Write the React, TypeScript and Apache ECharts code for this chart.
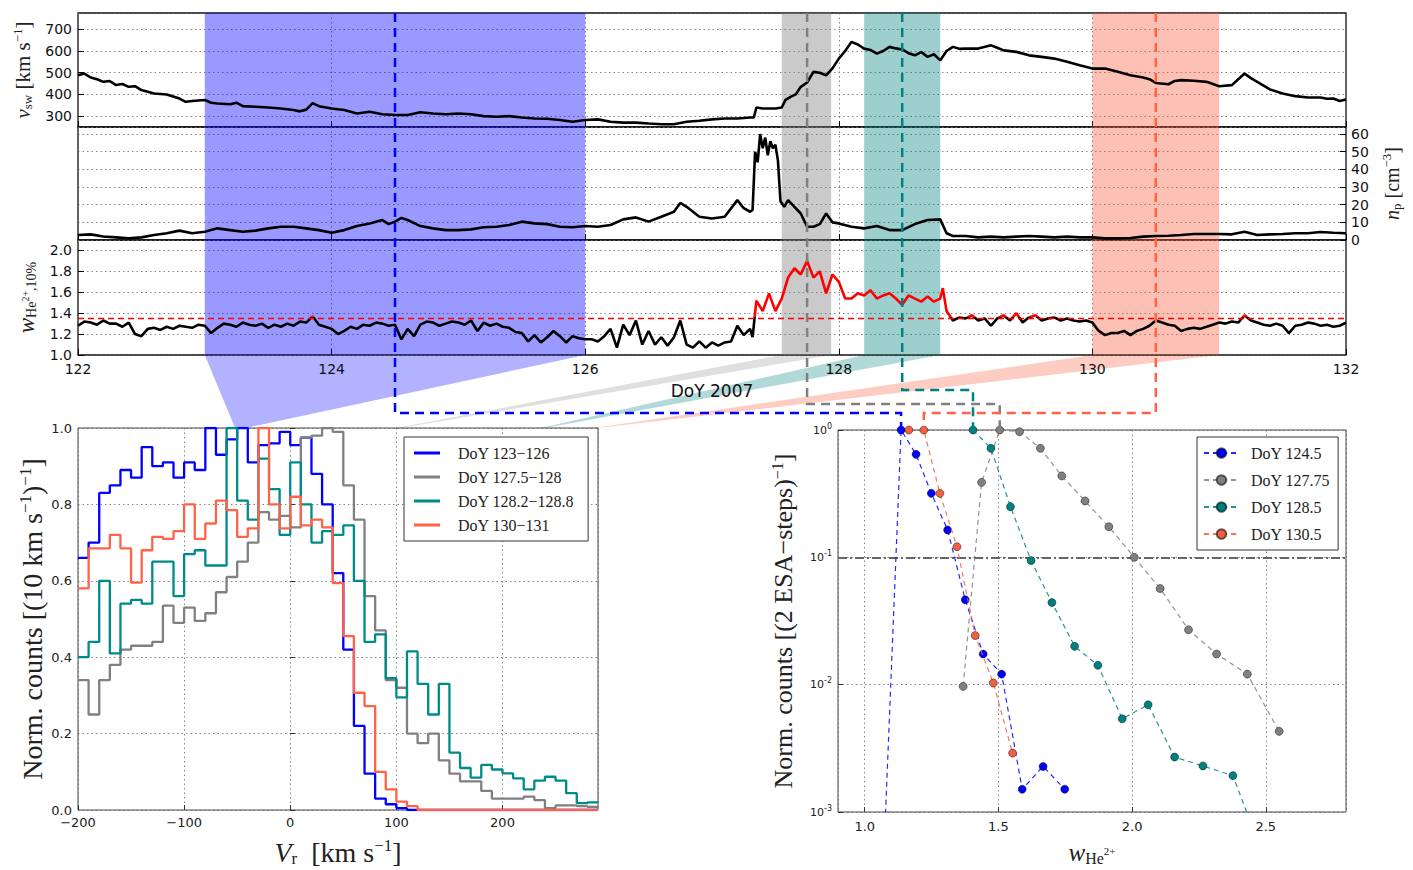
import { useEffect, useRef } from 'react';
import * as echarts from 'echarts';

// ---------------- DATA ----------------
// Top panels: [DoY, value]
const vswData: [number, number][] = [
  [122.0, 488], [122.05, 496], [122.1, 478], [122.15, 470], [122.2, 458], [122.25, 462], [122.3, 443], [122.35, 448],
  [122.4, 435], [122.45, 438], [122.5, 420], [122.6, 404], [122.7, 400], [122.8, 381], [122.85, 366], [122.9, 370],
  [123.0, 374], [123.05, 362], [123.1, 358], [123.2, 355], [123.25, 362], [123.3, 346], [123.4, 343], [123.5, 340],
  [123.6, 335], [123.7, 328], [123.75, 322], [123.8, 330], [123.85, 360], [123.9, 346], [124.0, 335], [124.1, 328],
  [124.2, 312], [124.3, 320], [124.4, 309], [124.5, 305], [124.6, 305], [124.7, 318], [124.8, 312], [124.9, 309],
  [125.0, 312], [125.1, 309], [125.2, 300], [125.3, 297], [125.4, 300], [125.5, 294], [125.6, 289], [125.7, 288],
  [125.8, 282], [125.9, 274], [126.0, 282], [126.1, 285], [126.2, 274], [126.3, 270], [126.4, 270], [126.5, 266],
  [126.6, 263], [126.7, 263], [126.8, 274], [126.9, 279], [127.0, 285], [127.1, 289], [127.2, 289], [127.3, 294],
  [127.33, 294], [127.35, 340], [127.4, 335], [127.5, 335], [127.55, 340], [127.58, 375], [127.62, 389], [127.66, 400],
  [127.7, 435], [127.75, 455], [127.8, 504], [127.85, 500], [127.9, 488], [127.95, 520], [128.0, 565], [128.05, 600],
  [128.1, 642], [128.15, 630], [128.2, 611], [128.25, 605], [128.3, 588], [128.35, 600], [128.4, 619], [128.45, 612],
  [128.5, 607], [128.55, 590], [128.6, 580], [128.65, 595], [128.7, 573], [128.75, 585], [128.8, 557], [128.85, 600],
  [128.9, 619], [128.95, 610], [129.0, 611], [129.1, 611], [129.2, 626], [129.25, 615], [129.3, 603], [129.4, 596],
  [129.5, 580], [129.6, 573], [129.7, 565], [129.8, 550], [129.9, 534], [130.0, 519], [130.1, 519], [130.2, 504],
  [130.3, 488], [130.4, 478], [130.45, 470], [130.5, 453], [130.6, 447], [130.65, 462], [130.7, 466], [130.8, 463],
  [130.9, 458], [131.0, 438], [131.1, 443], [131.15, 470], [131.2, 496], [131.25, 475], [131.3, 458], [131.4, 423],
  [131.5, 404], [131.6, 392], [131.7, 386], [131.8, 386], [131.85, 380], [131.9, 381], [131.95, 370], [132.0, 377],
];

const npData: [number, number][] = [
  [122.0, 2.8], [122.1, 3.2], [122.2, 2.0], [122.3, 1.5], [122.4, 1.0], [122.5, 1.5], [122.6, 2.8], [122.7, 3.8],
  [122.8, 5.3], [122.9, 3.8], [123.0, 4.7], [123.1, 6.6], [123.2, 5.6], [123.3, 4.7], [123.4, 5.3], [123.5, 6.6],
  [123.6, 7.5], [123.7, 7.5], [123.8, 6.6], [123.9, 5.6], [124.0, 4.1], [124.1, 5.6], [124.2, 7.9], [124.3, 9.4],
  [124.4, 11.3], [124.45, 9.0], [124.5, 10.4], [124.55, 12.5], [124.6, 11.3], [124.7, 7.9], [124.8, 6.6], [124.9, 5.6],
  [125.0, 5.6], [125.1, 6.0], [125.2, 7.2], [125.3, 7.5], [125.4, 8.5], [125.5, 10.4], [125.6, 9.4], [125.7, 9.0],
  [125.8, 7.5], [125.9, 7.2], [126.0, 7.9], [126.1, 7.5], [126.2, 8.5], [126.3, 11.7], [126.4, 12.8], [126.5, 10.4],
  [126.6, 13.2], [126.7, 16.0], [126.75, 21.0], [126.8, 18.8], [126.9, 13.2], [127.0, 12.2], [127.1, 13.2], [127.2, 22.6],
  [127.25, 18.0], [127.3, 16.0], [127.32, 17.0], [127.34, 50], [127.36, 44], [127.38, 60], [127.4, 52], [127.42, 58],
  [127.44, 48], [127.46, 56], [127.48, 52], [127.5, 54], [127.52, 45], [127.54, 22], [127.57, 18.8], [127.6, 22.6],
  [127.65, 18.8], [127.7, 15.0], [127.75, 7.5], [127.8, 7.5], [127.85, 9.0], [127.9, 15.0], [127.95, 10.0], [128.0, 9.4],
  [128.1, 7.5], [128.2, 6.6], [128.3, 7.9], [128.4, 5.6], [128.5, 5.6], [128.6, 9.0], [128.7, 11.3], [128.8, 11.7],
  [128.85, 3.8], [128.9, 2.3], [129.0, 2.3], [129.1, 1.5], [129.2, 1.9], [129.3, 1.5], [129.4, 1.9], [129.5, 2.3],
  [129.6, 1.9], [129.7, 1.5], [129.8, 1.9], [129.9, 1.5], [130.0, 1.5], [130.1, 0.9], [130.2, 0.9], [130.3, 1.1],
  [130.4, 1.9], [130.5, 2.3], [130.6, 2.4], [130.7, 2.8], [130.8, 3.4], [130.9, 3.4], [131.0, 3.4], [131.1, 3.2],
  [131.2, 4.7], [131.3, 2.8], [131.4, 3.2], [131.5, 3.4], [131.6, 3.8], [131.7, 3.8], [131.8, 4.5], [131.9, 4.1],
  [132.0, 3.8],
];

const wData: [number, number][] = [
  [122.0, 1.28], [122.05, 1.32], [122.1, 1.31], [122.15, 1.29], [122.2, 1.33], [122.25, 1.30], [122.3, 1.30], [122.35, 1.27],
  [122.4, 1.31], [122.45, 1.20], [122.5, 1.18], [122.55, 1.25], [122.6, 1.26], [122.65, 1.24], [122.7, 1.27], [122.75, 1.25],
  [122.8, 1.28], [122.85, 1.27], [122.9, 1.26], [122.95, 1.29], [123.0, 1.28], [123.05, 1.21], [123.1, 1.26], [123.15, 1.30],
  [123.2, 1.29], [123.25, 1.27], [123.3, 1.31], [123.35, 1.29], [123.4, 1.28], [123.45, 1.30], [123.5, 1.26], [123.55, 1.29],
  [123.6, 1.27], [123.65, 1.30], [123.7, 1.28], [123.75, 1.32], [123.8, 1.31], [123.85, 1.37], [123.9, 1.29], [123.95, 1.27],
  [124.0, 1.25], [124.05, 1.20], [124.1, 1.23], [124.15, 1.27], [124.2, 1.25], [124.25, 1.29], [124.3, 1.28], [124.35, 1.31],
  [124.4, 1.30], [124.45, 1.28], [124.5, 1.29], [124.55, 1.15], [124.6, 1.25], [124.65, 1.18], [124.7, 1.29], [124.75, 1.32],
  [124.8, 1.31], [124.85, 1.28], [124.9, 1.30], [124.95, 1.32], [125.0, 1.31], [125.05, 1.29], [125.1, 1.33], [125.15, 1.23],
  [125.2, 1.31], [125.25, 1.28], [125.3, 1.30], [125.35, 1.27], [125.4, 1.26], [125.45, 1.22], [125.5, 1.21], [125.55, 1.13],
  [125.6, 1.19], [125.65, 1.12], [125.7, 1.17], [125.75, 1.23], [125.8, 1.18], [125.85, 1.12], [125.9, 1.18], [125.95, 1.16],
  [126.0, 1.15], [126.05, 1.15], [126.1, 1.13], [126.15, 1.18], [126.2, 1.25], [126.25, 1.07], [126.3, 1.29], [126.35, 1.19],
  [126.4, 1.33], [126.45, 1.10], [126.5, 1.23], [126.55, 1.10], [126.6, 1.17], [126.65, 1.09], [126.7, 1.17], [126.75, 1.33],
  [126.8, 1.10], [126.85, 1.07], [126.9, 1.13], [126.95, 1.07], [127.0, 1.12], [127.05, 1.09], [127.1, 1.12], [127.15, 1.13],
  [127.2, 1.28], [127.25, 1.19], [127.3, 1.25], [127.32, 1.17], [127.35, 1.52], [127.4, 1.42], [127.45, 1.59], [127.5, 1.42],
  [127.55, 1.54], [127.6, 1.74], [127.65, 1.83], [127.7, 1.77], [127.75, 1.90], [127.8, 1.74], [127.85, 1.80], [127.9, 1.59],
  [127.95, 1.77], [128.0, 1.70], [128.05, 1.54], [128.1, 1.54], [128.15, 1.59], [128.2, 1.57], [128.25, 1.62], [128.3, 1.54],
  [128.35, 1.57], [128.4, 1.59], [128.45, 1.54], [128.5, 1.48], [128.55, 1.57], [128.6, 1.54], [128.65, 1.51], [128.7, 1.56],
  [128.75, 1.51], [128.8, 1.54], [128.82, 1.64], [128.85, 1.42], [128.9, 1.33], [128.95, 1.36], [129.0, 1.35], [129.05, 1.38],
  [129.1, 1.33], [129.15, 1.35], [129.2, 1.28], [129.25, 1.35], [129.3, 1.38], [129.35, 1.33], [129.4, 1.40], [129.45, 1.31],
  [129.5, 1.36], [129.55, 1.38], [129.6, 1.33], [129.65, 1.35], [129.7, 1.36], [129.75, 1.33], [129.8, 1.35], [129.85, 1.33],
  [129.9, 1.32], [129.95, 1.33], [130.0, 1.31], [130.05, 1.23], [130.1, 1.19], [130.15, 1.21], [130.2, 1.21], [130.25, 1.23],
  [130.3, 1.19], [130.35, 1.23], [130.4, 1.25], [130.45, 1.28], [130.5, 1.33], [130.55, 1.31], [130.6, 1.29], [130.65, 1.28],
  [130.7, 1.23], [130.75, 1.25], [130.8, 1.26], [130.85, 1.25], [130.9, 1.27], [130.95, 1.29], [131.0, 1.31], [131.05, 1.30],
  [131.1, 1.32], [131.15, 1.31], [131.2, 1.38], [131.25, 1.33], [131.3, 1.31], [131.35, 1.29], [131.4, 1.28], [131.45, 1.30],
  [131.5, 1.28], [131.55, 1.21], [131.6, 1.28], [131.65, 1.29], [131.7, 1.31], [131.75, 1.30], [131.8, 1.28], [131.85, 1.29],
  [131.9, 1.27], [131.95, 1.28], [132.0, 1.31],
];

const wThresholdLine = 1.35;
const wRedAbove = 1.36;

// Highlighted intervals (DoY) and their characteristic times
const intervalNames = ['DoY 123\u2212126', 'DoY 127.5\u2212128', 'DoY 128.2\u2212128.8', 'DoY 130\u2212131'];
const intervalFrom = [123, 127.55, 128.2, 130];
const intervalTo = [126, 127.94, 128.8, 131];
const pointNames = ['DoY 124.5', 'DoY 127.75', 'DoY 128.5', 'DoY 130.5'];
const pointDays = [124.5, 127.75, 128.5, 130.5];

// Histogram: bin left edges (km/s) and final right edge
const histEdges = [
  -200, -190, -180, -170, -160, -150, -140, -130, -120, -110, -100, -90, -80, -70, -60, -50, -40, -30, -20, -10,
  0, 10, 20, 30, 40, 50, 60, 70, 80, 90, 100, 110, 120, 130, 140, 150, 160, 170, 180, 190,
  200, 210, 220, 230, 240, 250, 260, 270, 280, 290,
];
const histBlue = [
  0.66, 0.70, 0.83, 0.85, 0.89, 0.87, 0.95, 0.90, 0.91, 0.87, 0.91, 0.89, 1.00, 0.93, 0.97, 1.00, 0.91, 0.955, 0.96, 0.99,
  0.955, 0.975, 0.88, 0.80, 0.62, 0.42, 0.22, 0.095, 0.03, 0.015, 0.005, 0, 0, 0, 0, 0, 0, 0, 0, 0,
  0, 0, 0, 0, 0, 0, 0, 0, 0,
];
const histGray = [
  0.34, 0.25, 0.34, 0.38, 0.42, 0.43, 0.43, 0.44, 0.535, 0.49, 0.53, 0.495, 0.515, 0.57, 0.61, 0.65, 0.70, 0.78, 0.76, 0.77,
  0.74, 0.975, 0.98, 1.0, 0.99, 0.85, 0.76, 0.56, 0.47, 0.34, 0.32, 0.20, 0.175, 0.20, 0.13, 0.095, 0.075, 0.075, 0.05, 0.03,
  0.03, 0.03, 0.035, 0.026, 0.005, 0.012, 0.012, 0.01, 0.008,
];
const histTeal = [
  0.40, 0.44, 0.60, 0.41, 0.54, 0.55, 0.54, 0.65, 0.65, 0.56, 0.67, 0.68, 0.64, 0.64, 1.0, 0.81, 0.76, 0.92, 0.84, 0.72,
  0.91, 0.80, 0.70, 0.73, 0.72, 0.745, 0.60, 0.44, 0.46, 0.345, 0.295, 0.415, 0.33, 0.25, 0.33, 0.15, 0.11, 0.085, 0.118, 0.106,
  0.096, 0.083, 0.054, 0.077, 0.087, 0.077, 0.044, 0.018, 0.02,
];
const histRed = [
  0.58, 0.685, 0.685, 0.72, 0.685, 0.595, 0.68, 0.715, 0.71, 0.73, 0.80, 0.71, 0.75, 0.81, 0.785, 0.715, 0.737, 1.0, 0.80, 0.737,
  0.82, 0.745, 0.76, 0.74, 0.594, 0.455, 0.307, 0.272, 0.10, 0.054, 0.022, 0.01, 0, 0, 0, 0, 0, 0, 0, 0,
  0, 0, 0, 0, 0, 0, 0, 0, 0,
];

// Width distributions (w, normalised counts)
const distBlueW = [1.075, 1.136, 1.192, 1.249, 1.31, 1.376, 1.443, 1.512, 1.589, 1.667, 1.748];
const distBlueN = [0.0007, 1.0, 0.644, 0.318, 0.164, 0.0464, 0.0174, 0.0121, 0.00151, 0.00228, 0.00151];
const distGrayW = [1.368, 1.437, 1.505, 1.579, 1.657, 1.737, 1.824, 1.913, 2.008, 2.105, 2.211, 2.316, 2.431, 2.55];
const distGrayN = [0.0097, 0.388, 1.0, 0.97, 0.718, 0.436, 0.277, 0.174, 0.1, 0.0569, 0.027, 0.0174, 0.0121, 0.0043];
const distTealW = [1.405, 1.472, 1.545, 1.622, 1.70, 1.785, 1.872, 1.963, 2.06, 2.159, 2.265, 2.377, 2.50];
const distTealN = [1.0, 0.718, 0.25, 0.0944, 0.0442, 0.02, 0.0142, 0.0054, 0.00695, 0.0027, 0.0023, 0.00193, 0.0004];
const distRedW = [1.165, 1.221, 1.281, 1.345, 1.413, 1.481, 1.553];
const distRedN = [1.0, 1.0, 0.318, 0.121, 0.0243, 0.0103, 0.0029];
const distLevel = 0.1;

// ---------------- STYLE ----------------
const COLORS = ['#0000ff', '#808080', '#008b8b', '#ff6347'];
const DIST_COLORS = ['#0000ff', '#808080', '#008080', '#f26040'];
const SHADE = ['rgba(0,0,255,0.4)', 'rgba(128,128,128,0.42)', 'rgba(0,128,128,0.38)', 'rgba(250,90,60,0.38)'];
const CONNECT = ['rgba(0,0,255,0.3)', 'rgba(150,150,150,0.3)', 'rgba(0,128,128,0.3)', 'rgba(250,90,60,0.3)'];
const DASH_COLORS = ['#0000ff', '#808080', '#008080', '#ff6347'];
const ELBOW_Y = [413, 404, 390, 413];
const CONNECT_TARGET = [[-52, -42], [100, 104], [236, 240], [286, 290]];

const SANS = 'DejaVu Sans, sans-serif';
const SERIF = 'Liberation Serif, DejaVu Serif, serif';
const TOP_LINE_W = 2.6;

const zip = (a: number[], b: number[]) => a.map((v, i) => [v, b[i]]);
const histSeriesData = (vals: number[]) =>
  histEdges.map((e, i) => [e, i < vals.length ? vals[i] : vals[vals.length - 1]]);

const dotted = { show: true, lineStyle: { type: [1.5, 3] as any, color: '#666', width: 0.8 } };

function richSet(big: number, small: number, tiny: number, lift: number, drop: number) {
  return {
    i: { fontFamily: SERIF, fontStyle: 'italic', fontSize: big, color: '#222' },
    n: { fontFamily: SERIF, fontSize: big, color: '#222' },
    sb: { fontFamily: SERIF, fontSize: small, color: '#222', padding: [drop, 0, 0, 0] },
    sp: { fontFamily: SERIF, fontSize: small, color: '#222', padding: [0, 0, lift, 0] },
    ss: { fontFamily: SERIF, fontSize: tiny, color: '#222', padding: [0, 0, 2, 0] },
  };
}

const tickLabelTop = { fontFamily: SANS, fontSize: 14, color: '#111' };
const tickLabelBottom = { fontFamily: SANS, fontSize: 13, color: '#222' };

function topXAxis(idx: number) {
  return {
    type: 'value', gridIndex: idx, min: 122, max: 132, interval: 2,
    axisLine: { show: false },
    axisTick: { show: true, inside: true, length: 6, lineStyle: { color: '#000' } },
    axisLabel: idx === 2 ? { ...tickLabelTop, margin: 7 } : { show: false },
    splitLine: dotted,
    ...(idx === 2
      ? { name: 'DoY 2007', nameLocation: 'middle', nameGap: 27, nameTextStyle: { fontFamily: SANS, fontSize: 17, color: '#111' } }
      : {}),
  };
}

function markAreaAll() {
  return {
    silent: true,
    data: intervalFrom.map((f, i) => [
      { xAxis: f, itemStyle: { color: SHADE[i] } },
      { xAxis: intervalTo[i] },
    ]),
  };
}

export default function App() {
  const ref = useRef<HTMLDivElement>(null);

  useEffect(() => {
    const chart = echarts.init(ref.current!, null, { renderer: 'svg' });

    const option: any = {
      animation: false,
      backgroundColor: '#fff',
      grid: [
        { left: 78, top: 13, width: 1268, height: 114, show: true, borderColor: '#111', borderWidth: 1.3, backgroundColor: 'transparent' },
        { left: 78, top: 127, width: 1268, height: 113, show: true, borderColor: '#111', borderWidth: 1.3, backgroundColor: 'transparent' },
        { left: 78, top: 240, width: 1268, height: 115, show: true, borderColor: '#111', borderWidth: 1.3, backgroundColor: 'transparent' },
        { left: 78, top: 428, width: 520, height: 382, show: true, borderColor: '#444', borderWidth: 1, backgroundColor: 'transparent' },
        { left: 838, top: 430, width: 508, height: 382, show: true, borderColor: '#444', borderWidth: 1, backgroundColor: 'transparent' },
      ],
      xAxis: [
        topXAxis(0), topXAxis(1), topXAxis(2),
        {
          type: 'value', gridIndex: 3, min: -200, max: 290, splitNumber: 5,
          axisLine: { show: false },
          axisTick: { show: true, inside: true, length: 5, lineStyle: { color: '#333' } },
          axisLabel: { ...tickLabelBottom, showMaxLabel: false, margin: 6, formatter: (v: number) => (v < 0 ? '\u2212' + Math.abs(v) : String(v)) },
          splitLine: dotted,
          name: '{i|V}{sb|r}{n|  [km s}{sp|\u22121}{n|]}',
          nameLocation: 'middle', nameGap: 27,
          nameTextStyle: { rich: richSet(28, 17, 12, 14, 12) },
        },
        {
          type: 'value', gridIndex: 4, min: 0.9, max: 2.8, splitNumber: 4,
          axisLine: { show: false },
          axisTick: { show: true, inside: true, length: 5, lineStyle: { color: '#333' } },
          axisLabel: { ...tickLabelBottom, showMinLabel: false, showMaxLabel: false, margin: 8, formatter: (v: number) => v.toFixed(1) },
          splitLine: dotted,
          name: '{i|w}{sb|He}{ss|2+}',
          nameLocation: 'middle', nameGap: 26,
          nameTextStyle: { rich: richSet(25, 16, 11, 12, 12) },
        },
      ],
      yAxis: [
        {
          type: 'value', gridIndex: 0, min: 250, max: 775, splitNumber: 5,
          axisLine: { show: false },
          axisTick: { show: true, inside: true, length: 6, lineStyle: { color: '#000' } },
          axisLabel: { ...tickLabelTop, showMinLabel: false, showMaxLabel: false, margin: 6 },
          splitLine: dotted,
          name: '{i|v}{sb|sw}{n| [km s}{sp|\u22121}{n|]}',
          nameLocation: 'middle', nameGap: 34, nameRotate: 90,
          nameTextStyle: { rich: richSet(21, 13, 9, 11, 9) },
        },
        {
          type: 'value', gridIndex: 1, position: 'right', min: 0, max: 64, splitNumber: 6,
          axisLine: { show: false },
          axisTick: { show: true, inside: true, length: 6, lineStyle: { color: '#000' } },
          axisLabel: { ...tickLabelTop, showMaxLabel: false, margin: 5 },
          splitLine: dotted,
          name: '{i|n}{sb|p}{n| [cm}{sp|\u22123}{n|]}',
          nameLocation: 'middle', nameGap: 29, nameRotate: 90,
          nameTextStyle: { rich: richSet(20, 13, 9, 11, 9) },
        },
        {
          type: 'value', gridIndex: 2, min: 1.0, max: 2.1, splitNumber: 5,
          axisLine: { show: false },
          axisTick: { show: true, inside: true, length: 6, lineStyle: { color: '#000' } },
          axisLabel: { ...tickLabelTop, showMaxLabel: false, margin: 6, formatter: (v: number) => v.toFixed(1) },
          splitLine: dotted,
          name: '{i|w}{sb|He}{ss|2+}{sb|,10%}',
          nameLocation: 'middle', nameGap: 32, nameRotate: 90,
          nameTextStyle: { rich: richSet(23, 14, 10, 11, 10) },
        },
        {
          type: 'value', gridIndex: 3, min: 0, max: 1, interval: 0.2,
          axisLine: { show: false },
          axisTick: { show: true, inside: true, length: 5, lineStyle: { color: '#333' } },
          axisLabel: { ...tickLabelBottom, margin: 6, formatter: (v: number) => v.toFixed(1) },
          splitLine: dotted,
          name: '{n|Norm. counts [(10 km s}{sp|\u22121}{n|)}{sp|\u22121}{n|]}',
          nameLocation: 'middle', nameGap: 30, nameRotate: 90,
          nameTextStyle: { rich: richSet(28, 17, 12, 14, 10) },
        },
        {
          type: 'log', logBase: 10, gridIndex: 4, min: 0.001, max: 1,
          axisLine: { show: false },
          axisTick: { show: true, inside: true, length: 5, lineStyle: { color: '#333' } },
          axisLabel: {
            margin: 6,
            formatter: (v: number) => `{b|10}{e|${Math.round(Math.log10(v))}}`,
            rich: {
              b: { fontFamily: SANS, fontSize: 11, color: '#222' },
              e: { fontFamily: SANS, fontSize: 8, color: '#222', padding: [0, 0, 8, 0] },
            },
          },
          splitLine: dotted,
          name: '{n|Norm. counts [(2 ESA\u2212steps)}{sp|\u22121}{n|]}',
          nameLocation: 'middle', nameGap: 40, nameRotate: 90,
          nameTextStyle: { rich: richSet(26, 16, 11, 13, 10) },
        },
      ],
      visualMap: [
        {
          type: 'piecewise', show: false, seriesIndex: 2, dimension: 1,
          pieces: [
            { gte: 0, lte: wRedAbove, color: '#000000' },
            { gt: wRedAbove, lte: 5, color: '#ff0000' },
          ],
          outOfRange: { color: '#000000' },
        },
      ],
      legend: [
        {
          data: intervalNames.map((n) => ({ name: n, icon: 'rect' })),
          left: 404, top: 437, orient: 'vertical',
          itemWidth: 26, itemHeight: 3, itemGap: 8,
          padding: [8, 14, 8, 10],
          backgroundColor: '#fff', borderColor: '#333', borderWidth: 1, borderRadius: 0,
          textStyle: { fontFamily: SERIF, fontSize: 16, lineHeight: 16, color: '#222', padding: [0, 0, 0, 13] },
        },
        {
          data: pointNames,
          left: 1197, top: 437, orient: 'vertical',
          itemWidth: 35, itemHeight: 12, itemGap: 11,
          padding: [8, 8, 8, 6],
          backgroundColor: '#fff', borderColor: '#333', borderWidth: 1, borderRadius: 0,
          textStyle: { fontFamily: SERIF, fontSize: 16, color: '#222', padding: [0, 0, 0, 7] },
        },
      ],
      series: [
        {
          type: 'line', xAxisIndex: 0, yAxisIndex: 0, data: vswData, symbol: 'none', z: 3,
          lineStyle: { color: '#000', width: TOP_LINE_W }, markArea: markAreaAll(),
        },
        {
          type: 'line', xAxisIndex: 1, yAxisIndex: 1, data: npData, symbol: 'none', z: 3,
          lineStyle: { color: '#000', width: TOP_LINE_W }, markArea: markAreaAll(),
        },
        {
          type: 'line', xAxisIndex: 2, yAxisIndex: 2, data: wData, symbol: 'none', z: 3,
          lineStyle: { width: TOP_LINE_W }, markArea: markAreaAll(),
          markLine: {
            silent: true, symbol: 'none', label: { show: false },
            lineStyle: { color: '#ff0000', type: [6, 4], width: 1.3 },
            data: [{ yAxis: wThresholdLine }],
          },
        },
        ...[histBlue, histGray, histTeal, histRed].map((vals, i) => ({
          type: 'line', name: intervalNames[i], xAxisIndex: 3, yAxisIndex: 3,
          data: histSeriesData(vals), step: 'end', symbol: 'none',
          color: COLORS[i], lineStyle: { color: COLORS[i], width: 2.3 }, z: 3 + i,
        })),
        ...[
          [distBlueW, distBlueN],
          [distGrayW, distGrayN],
          [distTealW, distTealN],
          [distRedW, distRedN],
        ].map(([ws, ns], i) => ({
          type: 'line', name: pointNames[i], xAxisIndex: 4, yAxisIndex: 4,
          data: zip(ws, ns), symbol: 'circle', symbolSize: 8, z: 5 + i,
          color: DIST_COLORS[i],
          itemStyle: { color: DIST_COLORS[i], borderColor: 'rgba(0,0,0,0.55)', borderWidth: 0.8 },
          lineStyle: { color: DIST_COLORS[i], type: [5, 4], width: 1.2, opacity: 0.85 },
          ...(i === 0
            ? {
                markLine: {
                  silent: true, symbol: 'none', label: { show: false },
                  lineStyle: { color: '#666', type: [9, 3, 2, 3], width: 2 },
                  data: [{ yAxis: distLevel }],
                },
              }
            : {}),
        })),
      ],
    };

    chart.setOption(option);

    // ---- connectors computed from the axes ----
    const px = (axis: 'x' | 'y', idx: number, v: number) =>
      chart.convertToPixel(axis === 'x' ? { xAxisIndex: idx } : { yAxisIndex: idx }, v) as unknown as number;

    const yTop = px('y', 0, 775);
    const yBot = px('y', 2, 1.0);
    const histTop = px('y', 3, 1.0);
    const distTop = px('y', 4, 1.0);
    const distSets = [
      [distBlueW, distBlueN], [distGrayW, distGrayN], [distTealW, distTealN], [distRedW, distRedN],
    ];

    const elements: any[] = [];
    intervalFrom.forEach((f, i) => {
      const x0 = px('x', 2, f);
      const x1 = px('x', 2, intervalTo[i]);
      const t0 = px('x', 3, CONNECT_TARGET[i][0]);
      const t1 = px('x', 3, CONNECT_TARGET[i][1]);
      elements.push({
        type: 'polygon', silent: true, z: -10,
        shape: { points: [[x0, yBot], [x1, yBot], [t1, histTop], [t0, histTop]] },
        style: { fill: CONNECT[i] },
      });
    });
    pointDays.forEach((d, i) => {
      const xm = px('x', 2, d);
      const [ws, ns] = distSets[i];
      const mx = Math.max(...ns);
      const peakW = ws[ns.lastIndexOf(mx)];
      const xp = px('x', 4, peakW);
      elements.push({
        type: 'polyline', silent: true, z: 100,
        shape: { points: [[xm, yTop], [xm, ELBOW_Y[i]], [xp, ELBOW_Y[i]], [xp, distTop]] },
        style: { stroke: DASH_COLORS[i], lineWidth: 2.5, lineDash: [9, 6], fill: 'none' },
      });
    });
    chart.setOption({ graphic: { elements } });

    return () => chart.dispose();
  }, []);

  return <div ref={ref} style={{ position: 'absolute', left: 0, top: 0, width: 1413, height: 870 }} />;
}
